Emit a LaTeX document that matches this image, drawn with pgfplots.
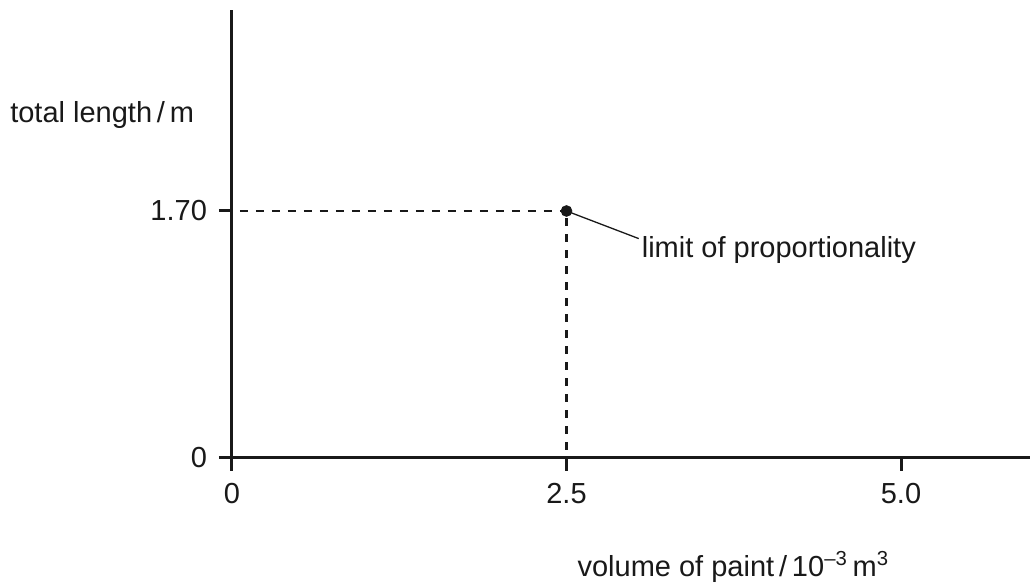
\documentclass[border=0pt]{standalone}
\usepackage{fontspec}
\setmainfont{Liberation Sans}
\usepackage{pgfplots}
\pgfplotsset{compat=1.18}
\begin{document}
\begin{tikzpicture}
\fontsize{14.5}{17}\selectfont
\path[use as bounding box] (-116pt,-63pt) rectangle (399pt,229pt);
\begin{axis}[
  at={(0pt,0pt)}, anchor=origin,
  x=66.9pt, y=72.65pt,
  xmin=0, xmax=5.964, ymin=0, ymax=3.083,
  axis lines=left,
  axis line style={-, line width=1.5pt, color=black!90},
  clip=false,
  xtick={0,2.5,5}, xticklabels={0,2.5,5.0},
  ytick={0,1.7}, yticklabels={0,1.70},
  tick align=outside,
  major tick length=6.5pt,
  tick style={line width=1.5pt, color=black!90},
  tick label style={font=\fontsize{14.5}{17}\selectfont, color=black!90},
  /pgf/number format/assume math mode=true,
  xticklabel style={yshift=-1pt},
  yticklabel style={xshift=-1pt},
]
\addplot[black!90, line width=1.2pt, dash pattern=on 4pt off 4pt, dash phase=4pt] coordinates {(0,1.7) (2.5,1.7)};
\addplot[black!90, line width=1.2pt, dash pattern=on 4pt off 4pt, dash phase=4pt] coordinates {(2.5,0) (2.5,1.7)};
\addplot[black!90, line width=0.65pt] coordinates {(2.5,1.7) (3.04,1.51)};
\addplot[only marks, mark=*, mark size=2.7pt, black!90] coordinates {(2.5,1.7)};
\node[anchor=west, inner sep=0pt, text=black!90] at (axis cs:3.06,1.43) {limit of proportionality};
\node[anchor=west, inner sep=0pt, text=black!90] at (axis cs:-1.66,2.36) {total length\,/\,m};
\node[anchor=west, inner sep=0pt, text=black!90] at (axis cs:2.58,-0.75) {volume of paint\,/\,10\textsuperscript{–3}\,m\textsuperscript{3}};
\end{axis}
\end{tikzpicture}
\end{document}
